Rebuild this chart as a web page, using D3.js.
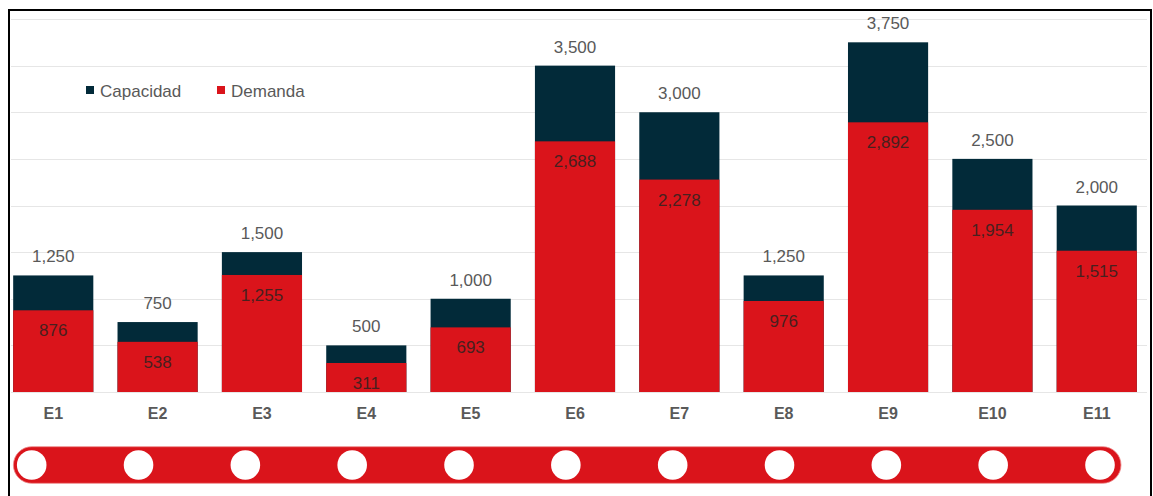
<!DOCTYPE html>
<html>
<head>
<meta charset="utf-8">
<script src="https://cdn.jsdelivr.net/npm/d3@7"></script>
<style>
  html, body { margin: 0; padding: 0; background: #ffffff; }
  svg { display: block; }
  text { font-family: "Liberation Sans", Arial, sans-serif; }
</style>
</head>
<body>
<svg id="chart" width="1153" height="496"></svg>
<script>
// ---- data ----
const categories = ["E1","E2","E3","E4","E5","E6","E7","E8","E9","E10","E11"];
const capacidad = [1250, 750, 1500, 500, 1000, 3500, 3000, 1250, 3750, 2500, 2000];
const demanda   = [876, 538, 1255, 311, 693, 2688, 2278, 976, 2892, 1954, 1515];
const seriesNames = ["Capacidad", "Demanda"];
const yTicks = [0, 500, 1000, 1500, 2000, 2500, 3000, 3500, 4000];

// ---- style ----
const RED = "#da141b";
const DARK = "#022a39";

const svg = d3.select("#chart");
const fmt = d3.format(",");

const x = d3.scaleBand().domain(categories).range([9, 1141])
  .paddingInner(0.232).paddingOuter(0.04);
const y = d3.scaleLinear().domain([0, 4000]).range([392, 19]);

// gridlines
svg.append("g").selectAll("line").data(yTicks).join("line")
  .attr("x1", 11).attr("x2", 1147)
  .attr("y1", d => Math.round(y(d)) + 0.5).attr("y2", d => Math.round(y(d)) + 0.5)
  .attr("stroke", "#e6e6e6").attr("stroke-width", 1.2);

const rows = categories.map((c, i) => ({ c, cap: capacidad[i], dem: demanda[i] }));

// capacity bars
svg.append("g").selectAll("rect").data(rows).join("rect")
  .attr("x", d => x(d.c)).attr("width", x.bandwidth())
  .attr("y", d => y(d.cap)).attr("height", d => y(0) - y(d.cap))
  .attr("fill", DARK);

// demand bars
svg.append("g").selectAll("rect").data(rows).join("rect")
  .attr("x", d => x(d.c)).attr("width", x.bandwidth())
  .attr("y", d => y(d.dem)).attr("height", d => y(0) - y(d.dem))
  .attr("fill", RED);

// capacity labels
svg.append("g").selectAll("text").data(rows).join("text")
  .attr("x", d => x(d.c) + x.bandwidth() / 2)
  .attr("y", d => y(d.cap) - 13)
  .attr("text-anchor", "middle")
  .attr("font-size", 17).attr("fill", "#595959")
  .text(d => fmt(d.cap));

// demand labels
svg.append("g").selectAll("text").data(rows).join("text")
  .attr("x", d => x(d.c) + x.bandwidth() / 2)
  .attr("y", d => y(d.dem) + 26)
  .attr("text-anchor", "middle")
  .attr("font-size", 17).attr("fill", "#48201f")
  .text(d => fmt(d.dem));

// x axis labels
const xAxis = d3.axisBottom(x).tickSize(0).tickPadding(0);
const gx = svg.append("g").attr("transform", "translate(0,408)").call(xAxis);
gx.select(".domain").remove();
gx.selectAll("text")
  .attr("font-family", "'Liberation Sans', Arial, sans-serif")
  .attr("font-size", 16).attr("font-weight", "bold").attr("fill", "#595959")
  .attr("dy", "0.71em");

// legend
const legendX = [86, 217];
const colors = [DARK, RED];
const lg = svg.append("g").selectAll("g").data(seriesNames).join("g")
  .attr("transform", (d, i) => `translate(${legendX[i]},86)`);
lg.append("rect").attr("width", 8).attr("height", 8).attr("fill", (d, i) => colors[i]);
lg.append("text").attr("x", 14).attr("y", 10.5)
  .attr("font-size", 17).attr("fill", "#595959").text(d => d);

// station rail
const sx = d3.scalePoint().domain(categories).range([31.7, 1100]);
const railY = 465;
svg.append("rect")
  .attr("x", sx(categories[0]) - 18.3)
  .attr("y", railY - 18.3)
  .attr("width", sx(categories[categories.length - 1]) - sx(categories[0]) + 39.3)
  .attr("height", 36.6)
  .attr("rx", 18.3)
  .attr("fill", RED)
  .attr("stroke", "#ec8a8c").attr("stroke-width", 0.8);
svg.append("g").selectAll("circle").data(categories).join("circle")
  .attr("cx", d => sx(d)).attr("cy", railY).attr("r", 14.8)
  .attr("fill", "#ffffff");

// frame
svg.append("rect").attr("x", 9).attr("y", 10).attr("width", 1142).attr("height", 520)
  .attr("fill", "none").attr("stroke", "#000").attr("stroke-width", 2);
</script>
</body>
</html>
